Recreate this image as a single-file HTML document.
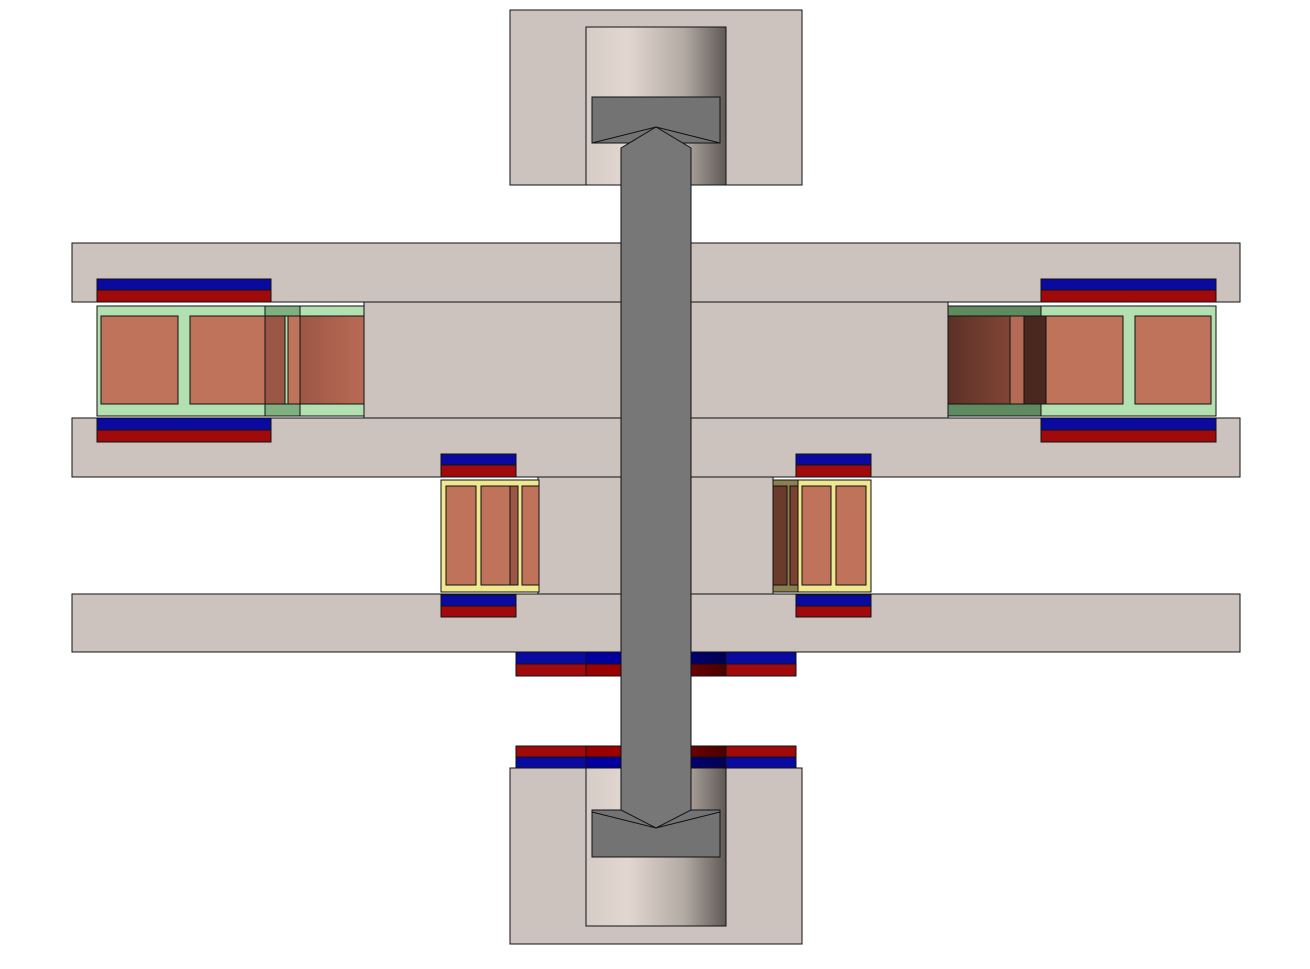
<!DOCTYPE html>
<html><head><meta charset="utf-8"><style>html,body{margin:0;padding:0;background:#fff}svg{display:block}</style></head>
<body>
<svg width="1310" height="969" viewBox="0 0 1310 969" stroke="#111" stroke-width="1">
<defs>
<linearGradient id="cyl" x1="0" x2="1"><stop offset="0" stop-color="#d6ccc6"/><stop offset="0.3" stop-color="#e2d7d0"/><stop offset="0.7" stop-color="#b4aaa4"/><stop offset="1" stop-color="#5f5955"/></linearGradient>
<linearGradient id="coilL" x1="0" x2="1"><stop offset="0" stop-color="#9c5745"/><stop offset="1" stop-color="#b96a55"/></linearGradient>
<linearGradient id="coilR" x1="0" x2="1"><stop offset="0" stop-color="#5c3126"/><stop offset="1" stop-color="#804536"/></linearGradient>
<linearGradient id="redR" x1="0" x2="1"><stop offset="0" stop-color="#8c0000"/><stop offset="1" stop-color="#4a0000"/></linearGradient>
<linearGradient id="bluR" x1="0" x2="1"><stop offset="0" stop-color="#000090"/><stop offset="1" stop-color="#000050"/></linearGradient>
</defs>
<g fill="#cdc3be">
<rect x="510" y="10" width="292" height="175"/>
<rect x="510" y="768" width="292" height="176"/>
<rect x="72" y="243" width="1168" height="59"/>
<rect x="72" y="418" width="1168" height="59"/>
<rect x="72" y="594" width="1168" height="58"/>
<rect x="364" y="302" width="584" height="116"/>
<rect x="538" y="477" width="235" height="117"/>
</g>
<rect x="586" y="27" width="140" height="158" fill="url(#cyl)"/>
<rect x="586" y="768" width="140" height="158" fill="url(#cyl)"/>
<g>
<rect x="97" y="279" width="174" height="11" fill="#0a0aa0"/><rect x="97" y="290" width="174" height="12" fill="#a00a0a"/>
<rect x="97" y="418" width="174" height="12" fill="#0a0aa0"/><rect x="97" y="430" width="174" height="12" fill="#a00a0a"/>
</g>
<g>
<rect x="1041" y="279" width="175" height="11" fill="#0a0aa0"/><rect x="1041" y="290" width="175" height="12" fill="#a00a0a"/>
<rect x="1041" y="418" width="175" height="12" fill="#0a0aa0"/><rect x="1041" y="430" width="175" height="12" fill="#a00a0a"/>
</g>
<g>
<rect x="441" y="454" width="75" height="11" fill="#0a0aa0"/><rect x="441" y="465" width="75" height="12" fill="#a00a0a"/>
<rect x="441" y="595" width="75" height="11" fill="#0a0aa0"/><rect x="441" y="606" width="75" height="11" fill="#a00a0a"/>
<rect x="796" y="454" width="75" height="11" fill="#0a0aa0"/><rect x="796" y="465" width="75" height="12" fill="#a00a0a"/>
<rect x="796" y="595" width="75" height="11" fill="#0a0aa0"/><rect x="796" y="606" width="75" height="11" fill="#a00a0a"/>
</g>
<g>
<rect x="516" y="652" width="70" height="12" fill="#0a0aa0"/><rect x="516" y="664" width="70" height="12" fill="#a00a0a"/>
<rect x="586" y="652" width="70" height="12" fill="#0000a0"/><rect x="586" y="664" width="70" height="12" fill="#9a0000"/>
<rect x="656" y="652" width="70" height="12" fill="url(#bluR)"/><rect x="656" y="664" width="70" height="12" fill="url(#redR)"/>
<rect x="726" y="652" width="70" height="12" fill="#0a0aa0"/><rect x="726" y="664" width="70" height="12" fill="#a00a0a"/>
<rect x="516" y="746" width="70" height="11" fill="#a00a0a"/><rect x="516" y="757" width="70" height="11" fill="#0a0aa0"/>
<rect x="586" y="746" width="70" height="11" fill="#9a0000"/><rect x="586" y="757" width="70" height="11" fill="#0000a0"/>
<rect x="656" y="746" width="70" height="11" fill="url(#redR)"/><rect x="656" y="757" width="70" height="11" fill="url(#bluR)"/>
<rect x="726" y="746" width="70" height="11" fill="#a00a0a"/><rect x="726" y="757" width="70" height="11" fill="#0a0aa0"/>
</g>
<g>
<rect x="97" y="306" width="267" height="110" fill="#b3e0b0"/>
<rect x="101" y="316" width="77" height="88" fill="#bf735b"/>
<rect x="190" y="316" width="75" height="88" fill="#bf735b"/>
<rect x="265" y="306" width="35" height="10" fill="#80b080"/><rect x="265" y="404" width="35" height="12" fill="#80b080"/>
<rect x="265" y="316" width="20" height="88" fill="#9a5745"/>
<rect x="288" y="316" width="12" height="88" fill="#bf735b"/>
<rect x="300" y="316" width="64" height="88" fill="url(#coilL)"/>
</g>
<g>
<rect x="948" y="306" width="268" height="110" fill="#b3e0b0"/>
<rect x="948" y="306" width="93" height="10" fill="#5f8a60"/><rect x="948" y="404" width="93" height="12" fill="#5f8a60"/>
<rect x="948" y="316" width="62" height="88" fill="url(#coilR)"/>
<rect x="1010" y="316" width="14" height="88" fill="#b56a55"/>
<rect x="1024" y="316" width="22" height="88" fill="#4a2820"/>
<rect x="1046" y="316" width="77" height="88" fill="#bf735b"/>
<rect x="1135" y="316" width="76" height="88" fill="#bf735b"/>
</g>
<g>
<rect x="441" y="480" width="98" height="112" fill="#f0e890"/>
<rect x="446" y="486" width="30" height="99" fill="#bf735b"/>
<rect x="481" y="486" width="29" height="99" fill="#bf735b"/>
<rect x="510" y="486" width="8" height="99" fill="#9a5745"/>
<rect x="522" y="486" width="17" height="99" fill="#bf735b"/>
</g>
<g>
<rect x="773" y="480" width="98" height="112" fill="#f0e890"/>
<rect x="773" y="480" width="25" height="112" fill="#8a8050"/>
<rect x="773" y="486" width="14" height="99" fill="#6a3a2c"/>
<rect x="790" y="486" width="8" height="99" fill="#7a4232"/>
<rect x="802" y="486" width="29" height="99" fill="#bf735b"/>
<rect x="836" y="486" width="30" height="99" fill="#bf735b"/>
</g>
<rect x="592" y="97" width="128" height="46" fill="#737373"/>
<rect x="592" y="810" width="128" height="47" fill="#737373"/>
<polygon points="621,148 656,127 691,148 691,810 656,828 621,810" fill="#777777"/>
<polyline points="592,143 656,127 720,143" fill="none"/>
<polyline points="592,812 656,828 720,812" fill="none"/>
</svg>
</body></html>
